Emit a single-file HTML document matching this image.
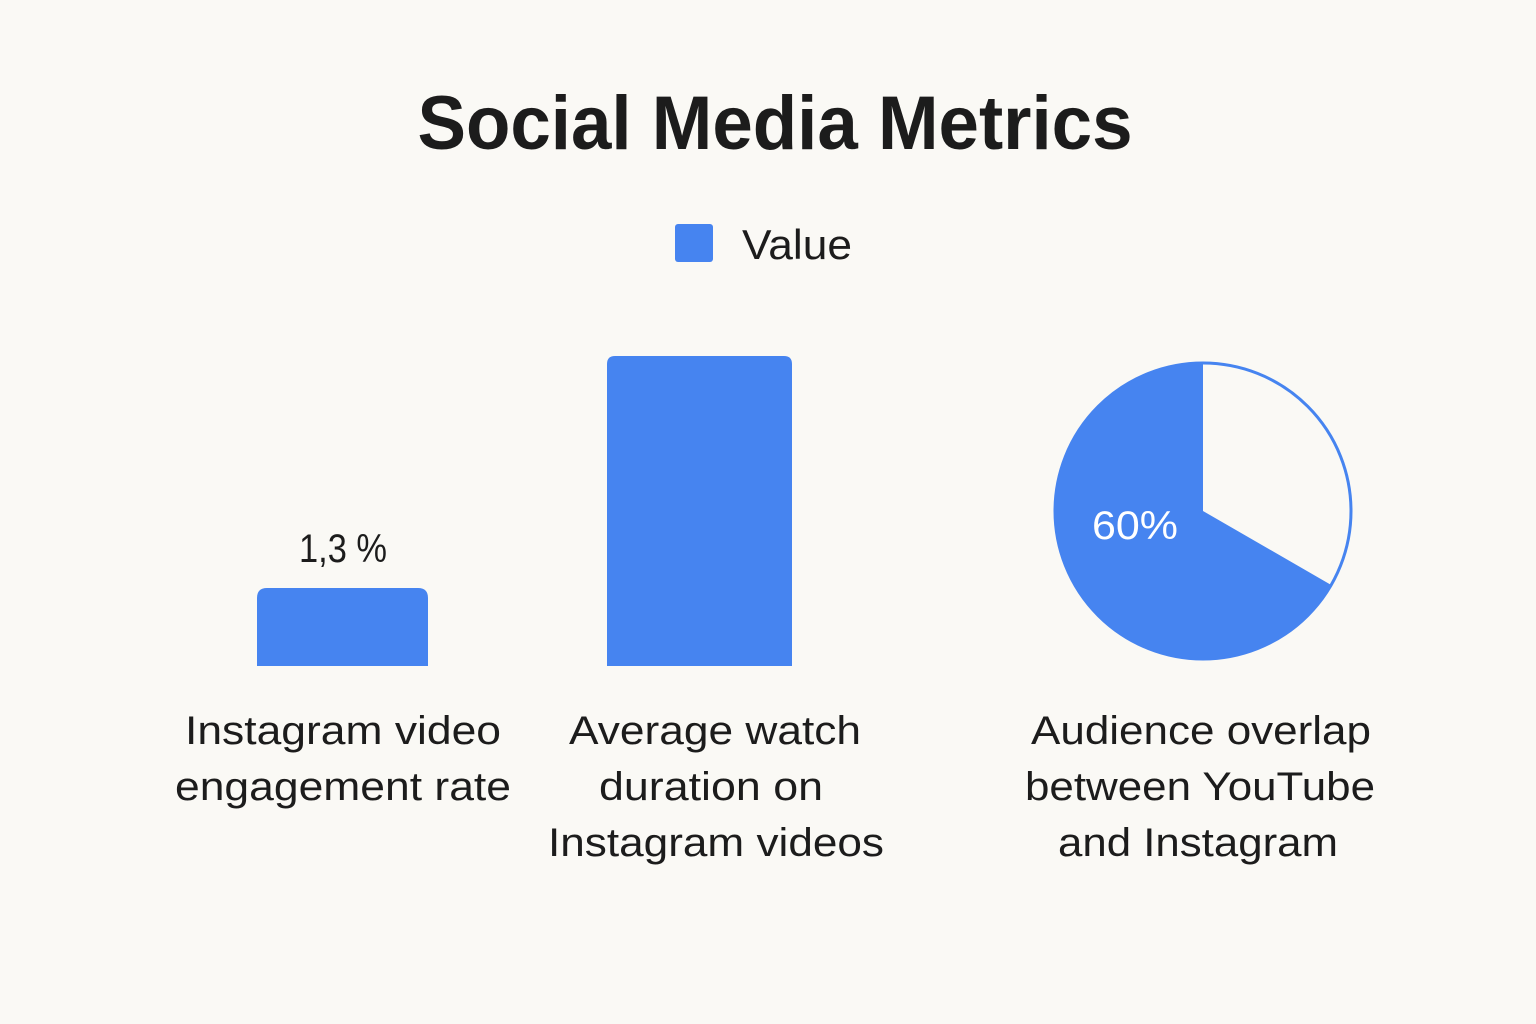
<!DOCTYPE html>
<html><head><meta charset="utf-8"><style>
html,body{margin:0;padding:0;background:#faf9f5;}
svg{display:block;}
text{font-family:"Liberation Sans",sans-serif;fill:#1c1c1c;}
</style></head><body>
<svg width="1536" height="1024" viewBox="0 0 1536 1024">
<rect width="1536" height="1024" fill="#faf9f5"/>
<text x="775" y="149" font-size="76" font-weight="bold" text-anchor="middle" textLength="715" lengthAdjust="spacingAndGlyphs">Social Media Metrics</text>
<rect x="675" y="224" width="38" height="38" rx="3" fill="#4684f0"/>
<text x="742" y="259" font-size="42" textLength="110" lengthAdjust="spacingAndGlyphs">Value</text>
<path d="M257,666 V598 Q257,588 267,588 H418 Q428,588 428,598 V666 Z" fill="#4684f0"/>
<text x="343" y="562" font-size="40" text-anchor="middle" textLength="88" lengthAdjust="spacingAndGlyphs">1,3 %</text>
<path d="M607,666 V364 Q607,356 615,356 H784 Q792,356 792,364 V666 Z" fill="#4684f0"/>
<circle cx="1203" cy="511" r="148" fill="#faf9f5" stroke="#4684f0" stroke-width="3"/>
<path d="M1203,511 L1331.2,585 A148,148 0 1 1 1203,363 Z" fill="#4684f0"/>
<text x="1135" y="539" font-size="40" text-anchor="middle" style="fill:#fff" textLength="86" lengthAdjust="spacingAndGlyphs">60%</text>
<g font-size="40" text-anchor="middle">
<text x="343" y="744" textLength="316" lengthAdjust="spacingAndGlyphs">Instagram video</text>
<text x="343" y="800" textLength="336" lengthAdjust="spacingAndGlyphs">engagement rate</text>
<text x="715" y="744" textLength="292" lengthAdjust="spacingAndGlyphs">Average watch</text>
<text x="711" y="800" textLength="224" lengthAdjust="spacingAndGlyphs">duration on</text>
<text x="716" y="856" textLength="336" lengthAdjust="spacingAndGlyphs">Instagram videos</text>
<text x="1201" y="744" textLength="340" lengthAdjust="spacingAndGlyphs">Audience overlap</text>
<text x="1200" y="800" textLength="350" lengthAdjust="spacingAndGlyphs">between YouTube</text>
<text x="1198" y="856" textLength="280" lengthAdjust="spacingAndGlyphs">and Instagram</text>
</g>
</svg>
</body></html>
